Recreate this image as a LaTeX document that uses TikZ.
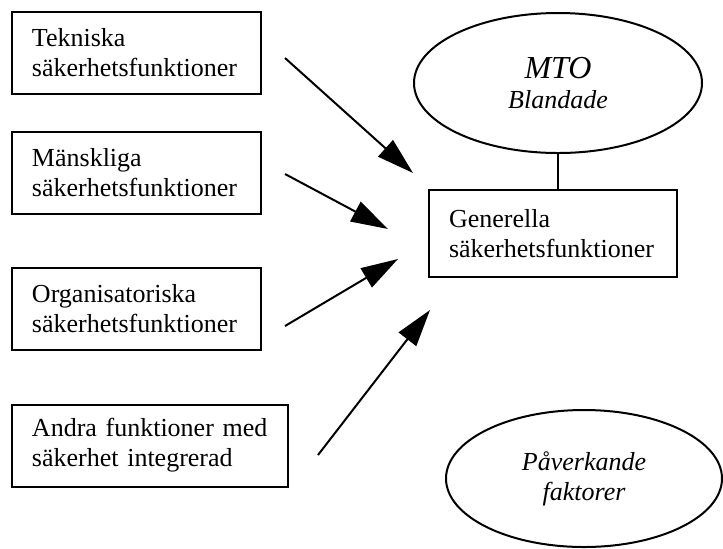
\documentclass[tikz,border=0pt]{standalone}
\usepackage{fontspec}
\setmainfont{Liberation Serif}
\usetikzlibrary{arrows.meta,positioning,shapes.geometric}
\tikzset{
func_box/.style={
	% The shape:
	rectangle,
	% The size:
	minimum height=41pt,
	inner xsep=10pt,
	text width=#1,
	% The border:
	draw=black,
	line width=1pt,
	% The text:
	align=left,
	font=\fontsize{13}{15}\selectfont
},
func_box/.default=104.5pt,
factor_oval/.style={
	% The shape:
	ellipse,
	% The border:
	draw=black,
	line width=1pt,
	% The text:
	align=center,
	font=\itshape\fontsize{13}{15}\selectfont
},
big_arrow/.style={
	line width=1pt,
	-{Triangle[length=18.5pt,width=11pt]}
}
}

\begin{document}
\begin{tikzpicture}[x=0.5pt, y=-0.5pt]
	\useasboundingbox (0,0) rectangle (723,548);
	% the functions on the left
	\node[func_box] (tek) at (136.5,52.5) {Tekniska\\säkerhetsfunktioner};
	\node[func_box, below=18pt of tek] (man) {Mänskliga\\säkerhetsfunktioner};
	\node[func_box, below=26pt of man] (org) {Organisatoriska\\säkerhetsfunktioner};
	\node[func_box=118pt, below=26.5pt of org.south west, anchor=north west] (andra)
		{Andra funktioner med\\säkerhet integrerad};
	% the general functions and the factors
	\node[func_box=104pt, minimum height=43.5pt] (gen) at (553,233.5)
		{Generella\\säkerhetsfunktioner};
	\node[factor_oval, minimum width=144pt, minimum height=70pt] (mto) at (558,83)
		{{\fontsize{16}{17}\selectfont MTO}\\Blandade};
	\node[factor_oval, minimum width=138pt, minimum height=68.5pt] (pav) at (584,478.5)
		{Påverkande\\faktorer};
	\draw[line width=1pt] (mto.south) -- (mto.south |- gen.north);
	% the free standing arrows
	\coordinate (tek_out) at (285,58);
	\coordinate (tek_in) at (413,173);
	\coordinate (man_out) at (285,174);
	\coordinate (man_in) at (388,229);
	\coordinate (org_out) at (285,326);
	\coordinate (org_in) at (398,259);
	\coordinate (andra_out) at (318,455);
	\coordinate (andra_in) at (430,310);
	\draw[big_arrow] (tek_out) -- (tek_in);
	\draw[big_arrow] (man_out) -- (man_in);
	\draw[big_arrow] (org_out) -- (org_in);
	\draw[big_arrow] (andra_out) -- (andra_in);
\end{tikzpicture}
\end{document}
